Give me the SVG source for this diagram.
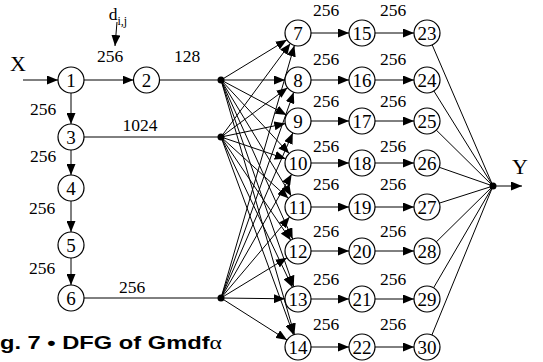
<svg xmlns="http://www.w3.org/2000/svg" width="543" height="362" viewBox="0 0 543 362">
<style>
.n circle{fill:#fff;stroke:#000;stroke-width:1.2}
.n text,.lbl{font-family:"Liberation Serif","Times New Roman",serif;fill:#000}
.n text{font-size:19px;text-anchor:middle}
.lbl{font-size:17.5px;text-anchor:middle}
.big{font-size:22px}
.e line{stroke:#000;stroke-width:1}
.a{marker-end:url(#ah)}
.cap{font-family:"Liberation Sans",Arial,sans-serif;font-weight:bold;font-size:19px}
</style>
<defs>
<marker id="ah" markerUnits="userSpaceOnUse" markerWidth="11" markerHeight="9" refX="11" refY="4.5" orient="auto">
<path d="M0,0 L11,4.5 L0,9 z" fill="#000"/>
</marker>
</defs>
<rect width="543" height="362" fill="#fff"/>
<g id="connectors" class="e">
<line class="a" x1="23" y1="80" x2="58" y2="80"/>
<line class="a" x1="84" y1="80" x2="133.5" y2="80"/>
<line x1="159.5" y1="80" x2="221" y2="80"/>
<line class="a" x1="71" y1="93" x2="71" y2="124"/>
<line x1="84" y1="137" x2="221" y2="137"/>
<line class="a" x1="71" y1="150" x2="71" y2="175"/>
<line class="a" x1="71" y1="201" x2="71" y2="232"/>
<line class="a" x1="71" y1="258" x2="71" y2="285"/>
<line x1="84" y1="298" x2="221" y2="298"/>
<line class="a" x1="117" y1="22" x2="115" y2="46"/>
<!-- D1 -->
<line class="a" x1="221" y1="80" x2="286.9" y2="39.8"/>
<line class="a" x1="221" y1="80" x2="285" y2="80"/>
<line class="a" x1="221" y1="80" x2="286.5" y2="114.9"/>
<line class="a" x1="221" y1="80" x2="289.2" y2="153.5"/>
<line class="a" x1="221" y1="80" x2="291.3" y2="195.9"/>
<line class="a" x1="221" y1="80" x2="292.7" y2="239.1"/>
<line class="a" x1="221" y1="80" x2="293.7" y2="286.7"/>
<line class="a" x1="221" y1="80" x2="294.4" y2="334.5"/>
<!-- D2 -->
<line class="a" x1="221" y1="137" x2="290.3" y2="43.4"/>
<line class="a" x1="221" y1="137" x2="287.6" y2="87.7"/>
<line class="a" x1="221" y1="137" x2="285.3" y2="123.6"/>
<line class="a" x1="221" y1="137" x2="285.7" y2="158.8"/>
<line class="a" x1="221" y1="137" x2="288.4" y2="198.3"/>
<line class="a" x1="221" y1="137" x2="290.7" y2="240.2"/>
<line class="a" x1="221" y1="137" x2="292.4" y2="287.3"/>
<line class="a" x1="221" y1="137" x2="293.5" y2="334.8"/>
<!-- D3 -->
<line class="a" x1="221" y1="298" x2="294.4" y2="45.5"/>
<line class="a" x1="221" y1="298" x2="293.7" y2="92.3"/>
<line class="a" x1="221" y1="298" x2="292.8" y2="132.9"/>
<line class="a" x1="221" y1="298" x2="291.6" y2="174.3"/>
<line class="a" x1="221" y1="298" x2="289.6" y2="216.9"/>
<line class="a" x1="221" y1="298" x2="286.9" y2="257.8"/>
<line class="a" x1="221" y1="298" x2="285" y2="298.8"/>
<line class="a" x1="221" y1="298" x2="287" y2="340"/>
<!-- rows -->
<line class="a" x1="311" y1="33" x2="349" y2="33"/><line class="a" x1="375" y1="33" x2="414" y2="33"/>
<line class="a" x1="311" y1="80" x2="349" y2="80"/><line class="a" x1="375" y1="80" x2="414" y2="80"/>
<line class="a" x1="311" y1="121" x2="349" y2="121"/><line class="a" x1="375" y1="121" x2="414" y2="121"/>
<line class="a" x1="311" y1="163" x2="349" y2="163"/><line class="a" x1="375" y1="163" x2="414" y2="163"/>
<line class="a" x1="311" y1="207" x2="349" y2="207"/><line class="a" x1="375" y1="207" x2="414" y2="207"/>
<line class="a" x1="311" y1="251" x2="349" y2="251"/><line class="a" x1="375" y1="251" x2="414" y2="251"/>
<line class="a" x1="311" y1="299" x2="349" y2="299"/><line class="a" x1="375" y1="299" x2="414" y2="299"/>
<line class="a" x1="311" y1="347" x2="349" y2="347"/><line class="a" x1="375" y1="347" x2="414" y2="347"/>
<!-- to Y -->
<line x1="432.2" y1="44.9" x2="493" y2="186"/>
<line x1="433.9" y1="91" x2="493" y2="186"/>
<line x1="436.3" y1="130.1" x2="493" y2="186"/>
<line x1="439.3" y1="167.3" x2="493" y2="186"/>
<line x1="439.4" y1="203.1" x2="493" y2="186"/>
<line x1="436.3" y1="241.9" x2="493" y2="186"/>
<line x1="433.6" y1="287.8" x2="493" y2="186"/>
<line x1="431.9" y1="335" x2="493" y2="186"/>
<line class="a" x1="493" y1="186" x2="522" y2="186"/>
<circle cx="221" cy="80" r="3.5"/>
<circle cx="221" cy="137" r="3.5"/>
<circle cx="221" cy="298" r="3.5"/>
<circle cx="493" cy="186" r="3.5"/>
</g>
<g id="labels">
<text class="lbl big" x="18" y="71">X</text>
<text class="lbl big" x="520" y="174">Y</text>
<text class="lbl" x="118" y="20">d<tspan font-size="12" dy="5">i,j</tspan></text>
<text class="lbl" x="110" y="62">256</text>
<text class="lbl" x="187" y="62">128</text>
<text class="lbl" x="43" y="115">256</text>
<text class="lbl" x="140" y="131">1024</text>
<text class="lbl" x="43" y="162">256</text>
<text class="lbl" x="42" y="214">256</text>
<text class="lbl" x="42" y="274">256</text>
<text class="lbl" x="132" y="293">256</text>
<text class="lbl" x="326" y="16">256</text><text class="lbl" x="393" y="16">256</text>
<text class="lbl" x="326" y="65">256</text><text class="lbl" x="393" y="65">256</text>
<text class="lbl" x="326" y="107">256</text><text class="lbl" x="393" y="107">256</text>
<text class="lbl" x="326" y="152">256</text><text class="lbl" x="393" y="152">256</text>
<text class="lbl" x="326" y="190">256</text><text class="lbl" x="393" y="190">256</text>
<text class="lbl" x="326" y="237">256</text><text class="lbl" x="393" y="237">256</text>
<text class="lbl" x="326" y="285">256</text><text class="lbl" x="393" y="285">256</text>
<text class="lbl" x="326" y="330">256</text><text class="lbl" x="393" y="330">256</text>
<text class="cap" x="0" y="349" textLength="222" lengthAdjust="spacingAndGlyphs">g. 7 • DFG of Gmdf<tspan font-family="'Liberation Serif',serif" font-weight="normal">α</tspan></text>
</g>
<g id="n1" class="n"><circle cx="71" cy="80" r="13"/><text x="71" y="86.5">1</text></g>
<g id="n2" class="n"><circle cx="146.5" cy="80" r="13"/><text x="146.5" y="86.5">2</text></g>
<g id="n3" class="n"><circle cx="71" cy="137" r="13"/><text x="71" y="143.5">3</text></g>
<g id="n4" class="n"><circle cx="71" cy="188" r="13"/><text x="71" y="194.5">4</text></g>
<g id="n5" class="n"><circle cx="71" cy="245" r="13"/><text x="71" y="251.5">5</text></g>
<g id="n6" class="n"><circle cx="71" cy="298" r="13"/><text x="71" y="304.5">6</text></g>
<g id="n7" class="n"><circle cx="298" cy="33" r="13"/><text x="298" y="39.5">7</text></g>
<g id="n8" class="n"><circle cx="298" cy="80" r="13"/><text x="298" y="86.5">8</text></g>
<g id="n9" class="n"><circle cx="298" cy="121" r="13"/><text x="298" y="127.5">9</text></g>
<g id="n10" class="n"><circle cx="298" cy="163" r="13"/><text x="298" y="169.5">10</text></g>
<g id="n11" class="n"><circle cx="298" cy="207" r="13"/><text x="298" y="213.5">11</text></g>
<g id="n12" class="n"><circle cx="298" cy="251" r="13"/><text x="298" y="257.5">12</text></g>
<g id="n13" class="n"><circle cx="298" cy="299" r="13"/><text x="298" y="305.5">13</text></g>
<g id="n14" class="n"><circle cx="298" cy="347" r="13"/><text x="298" y="353.5">14</text></g>
<g id="n15" class="n"><circle cx="362" cy="33" r="13"/><text x="362" y="39.5">15</text></g>
<g id="n16" class="n"><circle cx="362" cy="80" r="13"/><text x="362" y="86.5">16</text></g>
<g id="n17" class="n"><circle cx="362" cy="121" r="13"/><text x="362" y="127.5">17</text></g>
<g id="n18" class="n"><circle cx="362" cy="163" r="13"/><text x="362" y="169.5">18</text></g>
<g id="n19" class="n"><circle cx="362" cy="207" r="13"/><text x="362" y="213.5">19</text></g>
<g id="n20" class="n"><circle cx="362" cy="251" r="13"/><text x="362" y="257.5">20</text></g>
<g id="n21" class="n"><circle cx="362" cy="299" r="13"/><text x="362" y="305.5">21</text></g>
<g id="n22" class="n"><circle cx="362" cy="347" r="13"/><text x="362" y="353.5">22</text></g>
<g id="n23" class="n"><circle cx="427" cy="33" r="13"/><text x="427" y="39.5">23</text></g>
<g id="n24" class="n"><circle cx="427" cy="80" r="13"/><text x="427" y="86.5">24</text></g>
<g id="n25" class="n"><circle cx="427" cy="121" r="13"/><text x="427" y="127.5">25</text></g>
<g id="n26" class="n"><circle cx="427" cy="163" r="13"/><text x="427" y="169.5">26</text></g>
<g id="n27" class="n"><circle cx="427" cy="207" r="13"/><text x="427" y="213.5">27</text></g>
<g id="n28" class="n"><circle cx="427" cy="251" r="13"/><text x="427" y="257.5">28</text></g>
<g id="n29" class="n"><circle cx="427" cy="299" r="13"/><text x="427" y="305.5">29</text></g>
<g id="n30" class="n"><circle cx="427" cy="347" r="13"/><text x="427" y="353.5">30</text></g>
</svg>
